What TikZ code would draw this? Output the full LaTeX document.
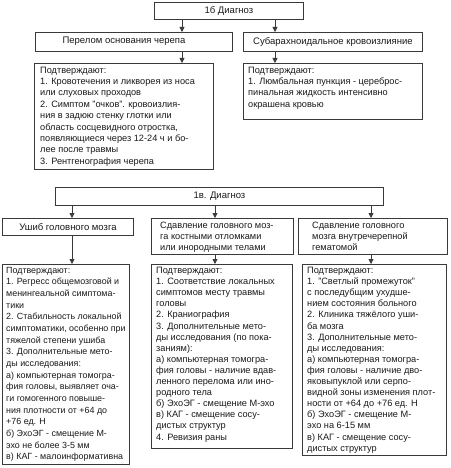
\documentclass[tikz,border=0pt]{standalone}
\usepackage{fontspec}
\setmainfont{Liberation Sans}
\usetikzlibrary{arrows.meta}
\definecolor{linec}{HTML}{3A3A3A}
\definecolor{txtc}{HTML}{1A1A1A}
\newcommand{\fsz}{\fontsize{9.2}{11.4}\selectfont}
\newcommand{\hsz}{\fontsize{9.5}{11.4}\selectfont}
\begin{document}
\begin{tikzpicture}[x=1pt,y=-1pt,
  box/.style={draw=linec, line width=0.9pt, inner sep=0pt, anchor=north west, text=txtc, font=\hsz},
  txt/.style={anchor=north west, inner sep=0pt, align=left, text=txtc, font=\fsz},
  arr/.style={draw=linec, line width=0.8pt, -{Triangle[length=5pt,width=5pt]}}]
\fill[white] (0,0) rectangle (450,468);
\useasboundingbox (0,0) rectangle (450,468);

% section 1
\node[box, minimum width=149pt, minimum height=17.5pt] (h1) at (154,2) {1б Диагноз};
\node[box, minimum width=197pt, minimum height=19pt] (s1) at (35,32) {};
\node[txt, anchor=center, font=\hsz] (s1t) at (124,41.5) {Перелом основания черепа};
\node[box, minimum width=179pt, minimum height=19pt] (s2) at (243,32) {Субарахноидальное кровоизлияние};
\node[box, minimum width=179pt, minimum height=106pt] (p1) at (34,63) {};
\node[box, minimum width=179pt, minimum height=56pt] (p2) at (243,63) {};

\node[txt, xshift=6pt, yshift=-3.5pt] (p1t) at (p1.north west) {Подтверждают:\\
1. Кровотечения и ликворея из носа\\
или слуховых проходов\\
2. Симптом "очков". кровоизлия-\\
ния в задюю стенку глотки или\\
область сосцевидного отростка,\\
появляющиеся через 12-24 ч и бо-\\
лее после травмы\\
3. Рентгенография черепа};

\node[txt, xshift=5pt, yshift=-3.5pt] (p2t) at (p2.north west) {Подтверждают:\\
1. Люмбальная пункция - цереброс-\\
пинальная жидкость интенсивно\\
окрашена кровью};

\coordinate (xa) at (182,0);
\coordinate (xb) at (275,0);
\draw[arr] (h1.south -| xa) -- (s1.north -| xa);
\draw[arr] (h1.south -| xb) -- (s2.north -| xb);
\draw[arr] (s1.south -| xa) -- (p1.north -| xa);
\draw[arr] (s2.south -| xb) -- (p2.north -| xb);

% section 2
\node[box, minimum width=328pt, minimum height=18pt] (h2) at (55,187) {1в. Диагноз};
\node[box, minimum width=131pt, minimum height=17pt] (c1) at (2,218) {Ушиб головного мозга};
\node[box, minimum width=142pt, minimum height=36pt] (c2) at (151,218) {};
\node[box, minimum width=149pt, minimum height=36pt] (c3) at (298,218) {};
\node[txt, xshift=9pt, yshift=-3.5pt] (c2t) at (c2.north west) {Сдавление головного моз-\\га костными отломками\\или инородными телами};
\node[txt, xshift=14pt, yshift=-3.5pt] (c3t) at (c3.north west) {Сдавление головного\\мозга внутречерепной\\гематомой};

\node[box, minimum width=127pt, minimum height=200pt] (e1) at (2,264) {};
\node[box, minimum width=141pt, minimum height=184pt] (e2) at (151,264) {};
\node[box, minimum width=144pt, minimum height=191pt] (e3) at (302,264) {};

\node[txt, xshift=4pt, yshift=-3pt, font=\fontsize{8.9}{11.65}\selectfont] (e1t) at (e1.north west) {Подтверждают:\\
1. Регресс общемозговой и\\
менингеальной симптома-\\
тики\\
2. Стабильность локальной\\
симптоматики, особенно при\\
тяжелой степени ушиба\\
3. Дополнительные мето-\\
ды исследования:\\
а) компьютерная томогра-\\
фия головы, выявляет оча-\\
ги гомогенного повыше-\\
ния плотности от +64 до\\
+76 ед. Н\\
б) ЭхоЭГ - смещение М-\\
эхо не более 3-5 мм\\
в) КАГ - малоинформативна};

\node[txt, xshift=5pt, yshift=-3pt, font=\fontsize{9.2}{11.1}\selectfont] (e2t) at (e2.north west) {Подтверждают:\\
1. Соответствие локальных\\
симптомов месту травмы\\
головы\\
2. Краниография\\
3. Дополнительные мето-\\
ды исследования (по пока-\\
заниям):\\
а) компьютерная томогра-\\
фия головы - наличие вдав-\\
ленного перелома или ино-\\
родного тела\\
б) ЭхоЭГ - смещение М-эхо\\
в) КАГ - смещение сосу-\\
дистых структур\\
4. Ревизия раны};

\node[txt, xshift=5pt, yshift=-3pt, font=\fontsize{9.2}{11.1}\selectfont] (e3t) at (e3.north west) {Подтверждают:\\
1. "Светлый промежуток"\\
с последубщим ухудше-\\
нием состояния больного\\
2. Клиника тяжёлого уши-\\
ба мозга\\
3. Дополнительные мето-\\
ды исследования:\\
а) компьютерная томогра-\\
фия головы - наличие дво-\\
яковыпуклой или серпо-\\
видной зоны изменения плот-\\
ности от +64 до +76 ед. Н\\
б) ЭхоЭГ - смещение М-\\
эхо на 6-15 мм\\
в) КАГ - смещение сосу-\\
дистых структур};

\coordinate (xc) at (72,0);
\coordinate (xd) at (215,0);
\coordinate (xe) at (371,0);
\draw[arr] (h2.south -| xc) -- (c1.north -| xc);
\draw[arr] (h2.south -| xd) -- (c2.north -| xd);
\draw[arr] (h2.south -| xe) -- (c3.north -| xe);
\draw[arr] (c1.south -| xc) -- (e1.north -| xc);
\draw[arr] (c2.south -| xd) -- (e2.north -| xd);
\draw[arr] (c3.south -| xe) -- (e3.north -| xe);
\end{tikzpicture}
\end{document}
